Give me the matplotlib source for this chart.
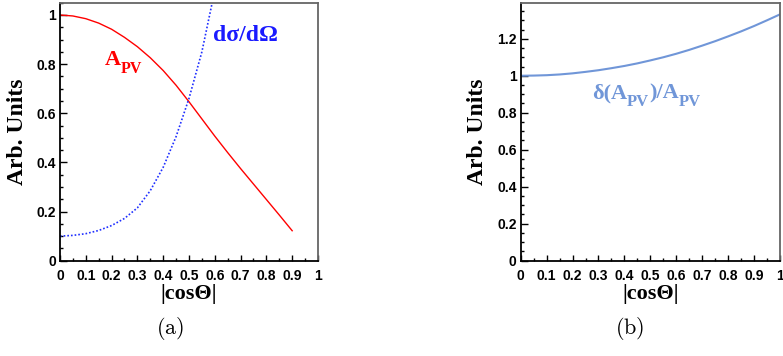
import matplotlib
matplotlib.use("Agg")
import matplotlib.pyplot as plt
from matplotlib.ticker import MultipleLocator, FormatStrFormatter

# values
cos_apv = [0.0, 0.05, 0.1, 0.15, 0.2, 0.25, 0.3, 0.35, 0.4, 0.45,
           0.5, 0.55, 0.6, 0.65, 0.7, 0.75, 0.8, 0.85, 0.9]
apv = [1.0, 0.996, 0.985, 0.967, 0.942, 0.909, 0.871, 0.826, 0.774, 0.714,
       0.647, 0.577, 0.507, 0.44, 0.375, 0.312, 0.249, 0.186, 0.122]

cos_xs = [0.0, 0.05, 0.1, 0.15, 0.2, 0.25, 0.3, 0.35, 0.4, 0.45, 0.5, 0.55, 0.6]
xsec = [0.10, 0.103, 0.110, 0.123, 0.143, 0.172, 0.215, 0.285, 0.38, 0.505, 0.66, 0.85, 1.10]

cos_err = [0.0, 0.05, 0.1, 0.15, 0.2, 0.25, 0.3, 0.35, 0.4, 0.45, 0.5,
           0.55, 0.6, 0.65, 0.7, 0.75, 0.8, 0.85, 0.9, 0.95, 1.0]
rel_err = [1.0, 1.001, 1.003, 1.007, 1.013, 1.021, 1.030, 1.041, 1.053, 1.067, 1.083,
           1.100, 1.119, 1.140, 1.163, 1.187, 1.213, 1.240, 1.269, 1.300, 1.332]

xtick_font = {"family": "Liberation Sans", "weight": "bold", "size": 10}
ytick_font = {"family": "Liberation Sans", "weight": "bold", "size": 10}
xtitle_font = {"family": "Liberation Serif", "weight": "bold", "size": 16}
ytitle_font = {"family": "Liberation Serif", "weight": "bold", "size": 17}

fig = plt.figure(figsize=(7.83, 3.56), dpi=100)
ax1 = fig.add_axes([0.0766, 0.2677, 0.3295, 0.7247])
ax2 = fig.add_axes([0.665, 0.2677, 0.3312, 0.7247])


def style_axes(ax, ymax):
    ax.set_xlim(0, 1)
    ax.set_ylim(0, ymax)
    ax.xaxis.set_major_locator(MultipleLocator(0.1))
    ax.xaxis.set_minor_locator(MultipleLocator(0.05))
    ax.yaxis.set_major_locator(MultipleLocator(0.2))
    ax.yaxis.set_minor_locator(MultipleLocator(0.05))
    ax.xaxis.set_major_formatter(FormatStrFormatter("%g"))
    ax.yaxis.set_major_formatter(FormatStrFormatter("%g"))
    ax.tick_params(which="both", direction="in", top=False, right=False, color="black")
    ax.tick_params(axis="x", which="major", length=4.5, width=1, pad=6)
    ax.tick_params(axis="x", which="minor", length=2.4, width=1)
    ax.tick_params(axis="y", which="major", length=5, width=1, pad=3)
    ax.tick_params(axis="y", which="minor", length=2.4, width=1)
    for lab in ax.get_xticklabels():
        lab.set_fontproperties(xtick_font)
    for lab in ax.get_yticklabels():
        lab.set_fontproperties(ytick_font)
    for side in ["left", "bottom"]:
        ax.spines[side].set_color("black")
        ax.spines[side].set_linewidth(1.3)
    for side in ["top", "right"]:
        ax.spines[side].set_color("#666666")
        ax.spines[side].set_linewidth(1.3)
    ax.set_xlabel("|cos\u0398|", fontdict=xtitle_font)
    ax.set_ylabel("Arb. Units", fontdict=ytitle_font)
    ax.xaxis.set_label_coords(0.5, -0.09)
    ax.yaxis.set_label_coords(-0.125, 0.5)


def sub_text(ax, x, y, parts, color, size, subsize, shift=4.5):
    # chain text pieces so that subscripts sit lower and smaller
    prev = ax.text(x, y, parts[0][0], color=color, fontsize=size,
                   family="Liberation Serif", weight="bold", va="bottom")
    low = False
    for s, is_sub in parts[1:]:
        dy = 0
        if is_sub and not low:
            dy = -shift
        elif low and not is_sub:
            dy = shift
        low = is_sub
        prev = ax.annotate(s, xy=(1, 0), xycoords=prev, xytext=(0, dy),
                           textcoords="offset points", color=color,
                           fontsize=subsize if is_sub else size,
                           family="Liberation Serif", weight="bold",
                           va="bottom", ha="left")


# panel (a)
style_axes(ax1, 1.05)
ax1.plot(cos_apv, apv, color="#ff0000", lw=1.0)
ax1.plot(cos_xs, xsec, color="#1f2fff", lw=1.2, linestyle=(0, (1, 1.2)))
sub_text(ax1, 0.172, 0.775, [("A", False), ("PV", True)], "#ff0000", 16, 11.5)
ax1.text(0.594, 0.874, "d\u03c3/d\u03a9", color="#1a1aff", fontsize=17,
         family="Liberation Serif", weight="bold", va="bottom")

# panel (b)
style_axes(ax2, 1.395)
ax2.plot(cos_err, rel_err, color="#7096d8", lw=1.5)
sub_text(ax2, 0.274, 0.85, [("\u03b4(A", False), ("PV", True), (")/A", False), ("PV", True)],
         "#7096d8", 16, 12)

fig.text(170 / 783, 1 - 328 / 356, r"$(\mathrm{a})$", fontsize=16, ha="center", va="center",
         math_fontfamily="cm")
fig.text(630 / 783, 1 - 328 / 356, r"$(\mathrm{b})$", fontsize=16, ha="center", va="center",
         math_fontfamily="cm")

fig.savefig("out.png", dpi=100, facecolor="white")
